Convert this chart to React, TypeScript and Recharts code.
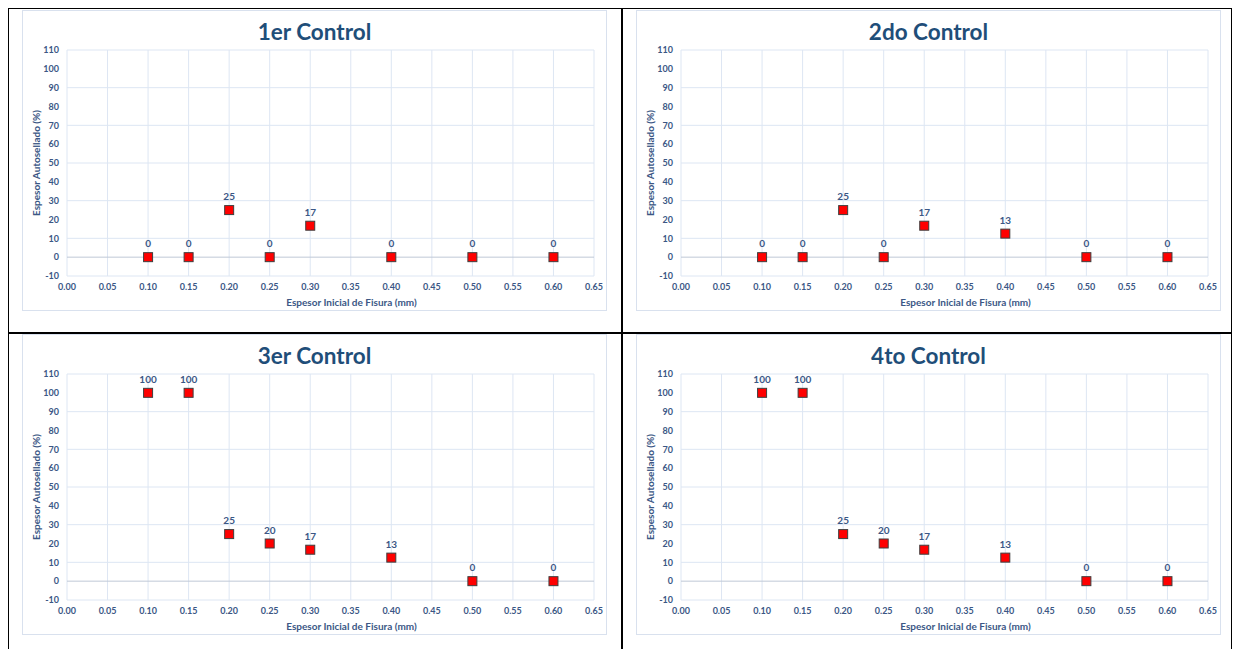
import React from "react"
import { ScatterChart, Scatter, XAxis, YAxis, CartesianGrid, ReferenceLine, Label } from "recharts"

const espesores = [0.1, 0.15, 0.2, 0.25, 0.3, 0.4, 0.5, 0.6]
const control1 = [0, 0, 25, 0, 16.7, 0, 0, 0]
const control2 = [0, 0, 25, 0, 16.7, 12.5, 0, 0]
const control3 = [100, 100, 25, 20, 16.7, 12.5, 0, 0]
const control4 = [100, 100, 25, 20, 16.7, 12.5, 0, 0]
const titulos = ["1er Control", "2do Control", "3er Control", "4to Control"]
const xTicks = [0, 0.05, 0.1, 0.15, 0.2, 0.25, 0.3, 0.35, 0.4, 0.45, 0.5, 0.55, 0.6, 0.65]
const yTicks = [-10, 0, 10, 20, 30, 40, 50, 60, 70, 80, 90, 100, 110]

const FONT = "Lato, 'Open Sans', sans-serif"
const TICK_COLOR = "#3B5785"
const TITLE_COLOR = "#1F4E79"

const Marker = (props: any) => {
  const { cx, cy, payload } = props
  return (
    <g>
      <rect x={cx - 4.5} y={cy - 4.5} width={9} height={9} fill="#FF0000" stroke="#3F3F3F" strokeWidth={1} />
      <text x={cx} y={cy - 14} textAnchor="middle" dominantBaseline="central" fontFamily={FONT} fontWeight={700} fontSize={10} fill={TICK_COLOR}>
        {Math.round(payload.y)}
      </text>
    </g>
  )
}

function ControlChart({ title, values }: { title: string; values: number[] }) {
  const data = espesores.map((x, i) => ({ x, y: values[i] }))
  return (
    <div style={{ position: "relative", width: 585, height: 301, border: "1px solid #D9E1EE", boxSizing: "border-box", background: "#fff" }}>
      <div style={{ position: "absolute", top: 9, left: 0, width: "100%", textAlign: "center", fontFamily: FONT, fontWeight: 700, fontSize: 22.5, color: TITLE_COLOR, lineHeight: "24px" }}>
        {title}
      </div>
      <ScatterChart width={585} height={301} margin={{ top: 40, right: 13, bottom: 0, left: 0 }} style={{ position: "absolute", top: -1, left: -1 }}>
        <CartesianGrid stroke="#DDE6F3" />
        <XAxis
          type="number"
          dataKey="x"
          domain={[0, 0.65]}
          ticks={xTicks}
          tickFormatter={(v: number) => v.toFixed(2)}
          axisLine={false}
          tickLine={false}
          height={35}
          tick={{ fontFamily: FONT, fontWeight: 700, fontSize: 9, fill: TICK_COLOR }}
        >
          <Label value="Espesor Inicial de Fisura (mm)" position="insideBottom" offset={5} dx={21} style={{ fontFamily: FONT, fontWeight: 700, fontSize: 10, fill: TICK_COLOR }} />
        </XAxis>
        <YAxis
          type="number"
          dataKey="y"
          domain={[-10, 110]}
          ticks={yTicks}
          axisLine={false}
          tickLine={false}
          width={45}
          tick={{ fontFamily: FONT, fontWeight: 700, fontSize: 9, fill: TICK_COLOR }}
        >
          <Label
            content={(p: any) => {
              const vb = p.viewBox
              const cx = vb.x + 14
              const cy = vb.y + vb.height / 2
              return (
                <text x={cx} y={cy} transform={`rotate(-90 ${cx} ${cy})`} textAnchor="middle" dominantBaseline="central" fontFamily={FONT} fontWeight={700} fontSize={10} fill={TICK_COLOR}>
                  Espesor Autosellado (%)
                </text>
              )
            }}
          />
        </YAxis>
        <ReferenceLine y={0} stroke="#BFC8D6" strokeWidth={1} />
        <Scatter data={data} shape={<Marker />} isAnimationActive={false} />
      </ScatterChart>
    </div>
  )
}

const series = [control1, control2, control3, control4]

export default function App() {
  const frames = [
    { left: 14, top: 2 },
    { left: 628, top: 2 },
    { left: 14, top: 326 },
    { left: 628, top: 326 },
  ]
  const line = (s: React.CSSProperties) => <div style={{ position: "absolute", background: "#000", ...s }} />
  return (
    <div style={{ position: "relative", width: 1224, height: 641 }}>
      {frames.map((f, i) => (
        <div key={i} style={{ position: "absolute", left: f.left, top: f.top }}>
          <ControlChart title={titulos[i]} values={series[i]} />
        </div>
      ))}
      {line({ left: -1, top: -1, width: 1226, height: 2 })}
      {line({ left: -1, top: 324, width: 1226, height: 2 })}
      {line({ left: -1, top: -1, width: 2, height: 660 })}
      {line({ left: 613, top: -1, width: 2, height: 660 })}
      {line({ left: 1223, top: -1, width: 2, height: 660 })}
    </div>
  )
}
